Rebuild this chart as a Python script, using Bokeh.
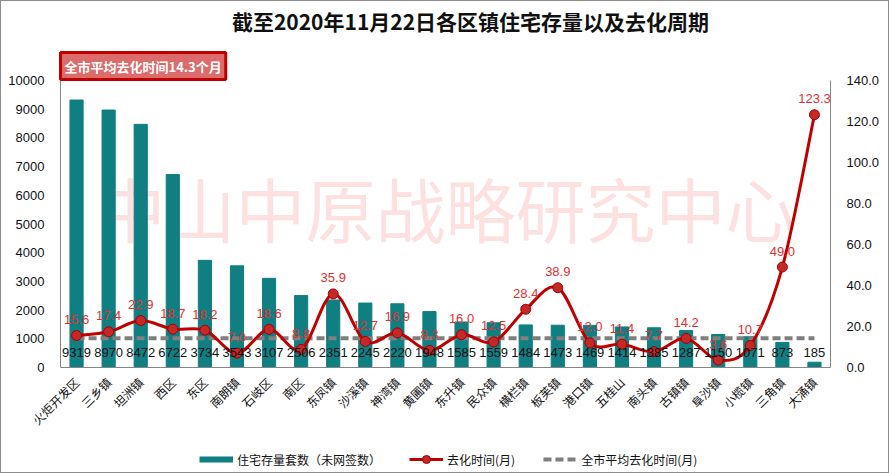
import math
from bokeh.plotting import figure
from bokeh.layouts import column
from bokeh.models import (Range1d, LinearAxis, FixedTicker, Label, Legend, LegendItem,
                          ColumnDataSource, NumeralTickFormatter, Title)
from bokeh.core.properties import value
from bokeh.embed import file_html
from bokeh.resources import INLINE

# ---------------- data ----------------
towns = ["火炬开发区", "三乡镇", "坦洲镇", "西区", "东区", "南朗镇", "石岐区", "南区",
         "东凤镇", "沙溪镇", "神湾镇", "黄圃镇", "东升镇", "民众镇", "横栏镇", "板芙镇",
         "港口镇", "五桂山", "南头镇", "古镇镇", "阜沙镇", "小榄镇", "三角镇", "大涌镇"]
stock = [9319, 8970, 8472, 6722, 3734, 3543, 3107, 2506, 2351, 2245, 2220, 1948,
         1585, 1559, 1484, 1473, 1469, 1414, 1385, 1287, 1150, 1071, 873, 185]
months = [15.6, 17.4, 22.9, 18.7, 18.2, 7.0, 18.6, 8.8, 35.9, 12.7, 16.9, 8.3,
          16.0, 12.5, 28.4, 38.9, 12.0, 11.4, 7.7, 14.2, 3.6, 10.7, 49.0, 123.3]
city_avg = 14.3
left_ticks = [0, 1000, 2000, 3000, 4000, 5000, 6000, 7000, 8000, 9000, 10000]
right_ticks = [0, 20, 40, 60, 80, 100, 120, 140]

title_text = "截至2020年11月22日各区镇住宅存量以及去化周期"
box_text = "全市平均去化时间14.3个月"
watermark = "中山中原战略研究中心"
legend_labels = ["住宅存量套数（未网签数）", "去化时间(月)", "全市平均去化时间(月)"]

# ---------------- style ----------------
BAR = "#0f7f82"
RED = "#c00000"
LABEL_RED = "#e03030"
GREY = "#7f7f7f"
AXIS = "#868686"
CJK = "Noto Sans CJK SC"
NUM = "Liberation Sans"

W = 887
ML, MR, MT, MB = 59, 58, 39, 70
FRAME_W = W - ML - MR
FRAME_H = 287
H_HEAD = 40
H_MAIN = MT + FRAME_H + MB
H_FOOT = 471 - H_HEAD - H_MAIN
n = len(towns)
LMAX, RMAX = left_ticks[-1], right_ticks[-1]
FRAME_TOP = 1 + H_HEAD + MT


def px_x(px):
    return -0.5 + (px - ML - 1) / FRAME_W * n


def px_yl(py):
    return (FRAME_TOP + FRAME_H - py) / FRAME_H * LMAX


# ---------------- header strip (title) ----------------
h = figure(width=W, height=H_HEAD, output_backend="svg", toolbar_location=None,
           x_axis_location=None, y_axis_location=None,
           min_border_left=ML, min_border_right=MR, min_border_top=0,
           min_border_bottom=0,
           x_range=Range1d(-0.5, n - 0.5), y_range=Range1d(0, H_HEAD))
h.outline_line_color = None
h.grid.visible = False
h.add_layout(Label(x=px_x(470), y=H_HEAD - 19, text=title_text, text_align="center",
                   text_baseline="middle", text_font=CJK, text_font_style="bold",
                   text_font_size="21px", text_color="#111111"))

# ---------------- main chart ----------------
p = figure(width=W, height=H_MAIN, output_backend="svg", toolbar_location=None,
           x_range=h.x_range, y_range=Range1d(0, LMAX),
           min_border_left=ML, min_border_right=MR, min_border_top=MT,
           min_border_bottom=MB)
p.outline_line_color = None
p.grid.visible = False
p.extra_y_ranges = {"r": Range1d(0, RMAX)}

# watermark
p.add_layout(Label(x=(n - 1) / 2, y=px_yl(207), text=watermark, text_align="center",
                   text_baseline="middle", text_font=CJK, text_font_size="70px",
                   text_color="#fde0e0", level="underlay"))

xs = list(range(n))
src = ColumnDataSource(dict(x=xs, stock=stock, months=months, town=towns,
                            zero=[0] * n, avg=[city_avg] * n,
                            stock_txt=[str(v) for v in stock],
                            month_txt=[f"{v:.1f}" for v in months]))

p.vbar(x="x", top="stock", width=0.41, color=BAR, source=src)

# average dashed line
p.line(x=[xs[0], xs[-1]], y=[city_avg, city_avg], y_range_name="r",
       line_color=GREY, line_width=4, line_dash="8 4")

# smoothed line through the points (Catmull-Rom -> Bezier)
x0s, y0s, x1s, y1s, cx0, cy0, cx1, cy1 = [], [], [], [], [], [], [], []
for i in range(n - 1):
    pm = (xs[max(i - 1, 0)], months[max(i - 1, 0)])
    p0 = (xs[i], months[i])
    p1 = (xs[i + 1], months[i + 1])
    pp = (xs[min(i + 2, n - 1)], months[min(i + 2, n - 1)])
    x0s.append(p0[0]); y0s.append(p0[1]); x1s.append(p1[0]); y1s.append(p1[1])
    cx0.append(p0[0] + (p1[0] - pm[0]) / 6); cy0.append(p0[1] + (p1[1] - pm[1]) / 6)
    cx1.append(p1[0] - (pp[0] - p0[0]) / 6); cy1.append(p1[1] - (pp[1] - p0[1]) / 6)
p.bezier(x0=x0s, y0=y0s, x1=x1s, y1=y1s, cx0=cx0, cy0=cy0, cx1=cx1, cy1=cy1,
         y_range_name="r", line_color=RED, line_width=3, line_cap="round")
p.scatter(x="x", y="months", source=src, y_range_name="r", size=10,
          fill_color="#c62828", line_color="#a00000", line_width=1)

# value labels
p.text(x="x", y="zero", text="stock_txt", source=src, y_offset=-15, text_align="center",
       text_baseline="middle", text_font=value(NUM), text_font_size="13px",
       text_color="#111111")
p.text(x="x", y="months", text="month_txt", source=src, y_range_name="r", y_offset=-16,
       text_align="center", text_baseline="middle", text_font=value(NUM),
       text_font_size="13px", text_color=LABEL_RED)

# axes
p.yaxis.ticker = FixedTicker(ticks=left_ticks)
p.yaxis.formatter = NumeralTickFormatter(format="0")
ra = LinearAxis(y_range_name="r", ticker=FixedTicker(ticks=right_ticks),
                formatter=NumeralTickFormatter(format="0.0"))
p.add_layout(ra, "right")
for ax in (p.yaxis[0], ra):
    ax.major_tick_line_color = None
    ax.minor_tick_line_color = None
    ax.axis_line_color = AXIS
    ax.major_label_text_font = NUM
    ax.major_label_text_font_size = "13px"
    ax.major_label_text_color = "#111111"
    ax.major_label_standoff = 10

xa = p.xaxis[0]
xa.ticker = FixedTicker(ticks=xs)
xa.major_label_overrides = {i: t for i, t in enumerate(towns)}
xa.major_label_orientation = math.pi / 4
xa.major_tick_line_color = None
xa.minor_tick_line_color = None
xa.axis_line_color = AXIS
xa.major_label_text_font = CJK
xa.major_label_text_font_size = "12px"
xa.major_label_text_color = "#111111"
xa.major_label_standoff = 6

# red box annotation just above the frame
p.add_layout(Title(text=box_text, align="left", offset=0, text_font=CJK,
                   text_font_style="bold", text_font_size="13px", text_color="white",
                   background_fill_color="#dc6b6b", border_line_color=RED,
                   border_line_width=3, padding=4, standoff=2), "above")

# ---------------- legend strip ----------------
# legend renderers use the real series but lie outside this strip's ranges
f = figure(width=W, height=H_FOOT, output_backend="svg", toolbar_location=None,
           x_axis_location=None, y_axis_location=None,
           min_border_left=ML, min_border_right=MR,
           min_border_top=0, min_border_bottom=0,
           x_range=Range1d(0, 1), y_range=Range1d(-2, -1))
f.outline_line_color = None
f.grid.visible = False
r_bar = f.line(x="x", y="stock", source=src, line_color=BAR, line_width=6)
r_ln = f.line(x="x", y="months", source=src, line_color=RED, line_width=3)
r_pt = f.scatter(x="x", y="months", source=src, size=9,
                 fill_color="#c62828", line_color="#a00000")
r_avg = f.line(x="x", y="avg", source=src, line_color=GREY, line_width=4,
               line_dash="8 4")
legend = Legend(items=[LegendItem(label=legend_labels[0], renderers=[r_bar]),
                       LegendItem(label=legend_labels[1], renderers=[r_ln, r_pt]),
                       LegendItem(label=legend_labels[2], renderers=[r_avg])],
                orientation="horizontal", location=(139, 3),
                glyph_width=34, glyph_height=20, label_standoff=4, spacing=28,
                padding=0, margin=0, border_line_color=None,
                background_fill_alpha=0, label_text_font=CJK,
                label_text_font_size="12px", label_text_color="#111111")
f.add_layout(legend)

layout = column(h, p, f, spacing=0,
                styles={"border": "1px solid #8c8c8c", "box-sizing": "content-box"})

open("out.html", "w").write(file_html(layout, INLINE))
